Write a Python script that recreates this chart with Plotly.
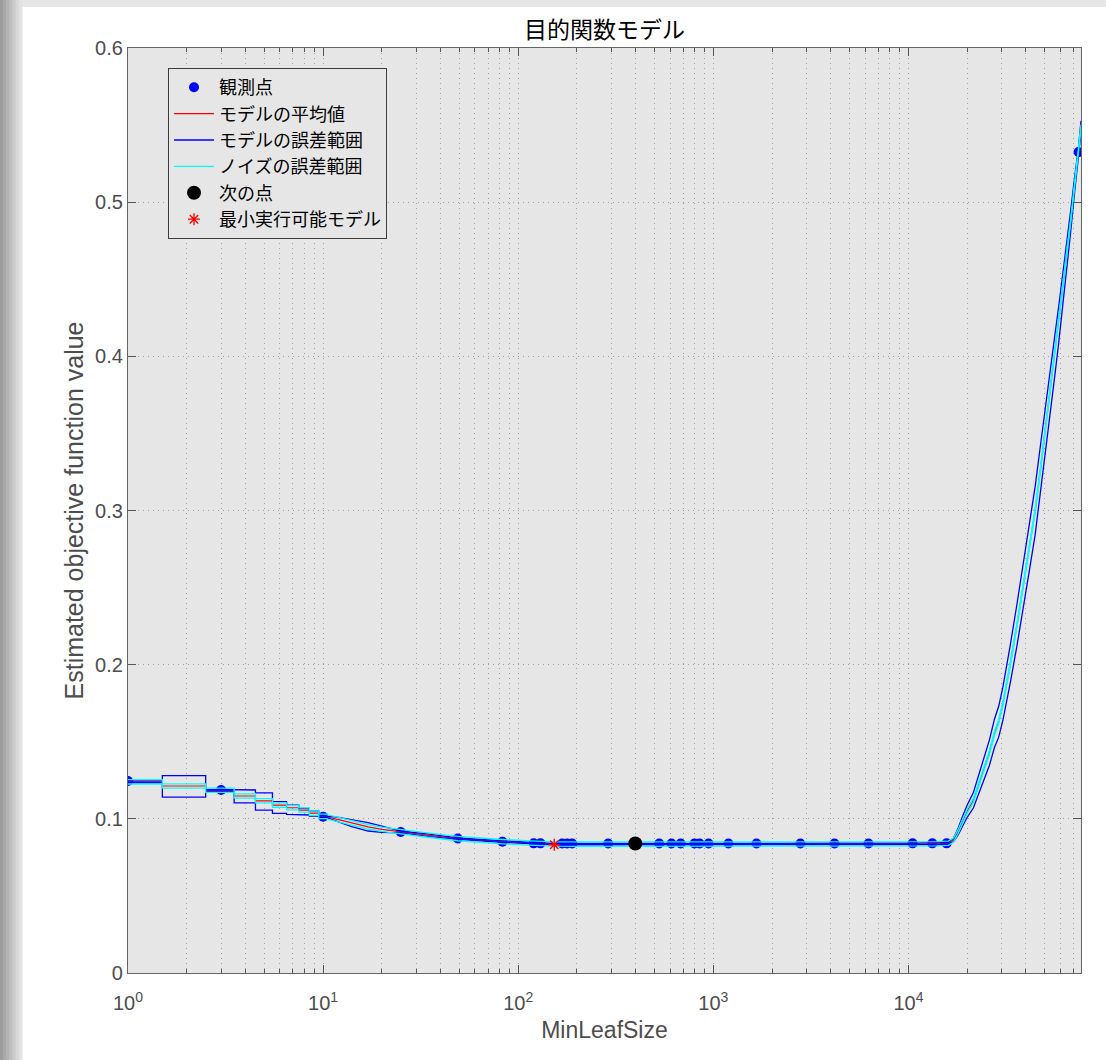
import plotly.graph_objects as go

# ---------------- data ----------------
# observed points (MinLeafSize, objective)
obs_x = [1, 3, 10, 25, 49, 83, 120, 130, 168, 178, 189, 289, 528, 610, 680,
         800, 850, 945, 1195, 1663, 2793, 4177, 6237, 10500, 13250, 15680, 74460]
obs_y = [0.1245, 0.1187, 0.1014, 0.0915, 0.0872, 0.0852, 0.0841, 0.0841, 0.0840,
         0.0840, 0.0840, 0.0840, 0.0840, 0.0840, 0.0840, 0.0840, 0.0840, 0.0840,
         0.0840, 0.0840, 0.0840, 0.0840, 0.0840, 0.0841, 0.0841, 0.0841, 0.5325]

# next point / minimum feasible model
next_x = [398]
next_y = [0.0840]
minf_x = [153]
minf_y = [0.0832]

# stepped part of the model (integer variable, low range)
step_edges = [1.0, 1.5, 2.5, 3.5, 4.5, 5.5, 6.5, 7.5, 8.5, 9.5, 10.5]
step_mean = [0.1240, 0.1213, 0.1185, 0.1148, 0.1117, 0.1089, 0.1072, 0.1057, 0.1037, 0.1016]
step_model_hi = [0.1246, 0.1280, 0.1191, 0.1187, 0.1168, 0.1111, 0.1089, 0.1068, 0.1051, 0.1021]
step_model_lo = [0.1234, 0.1141, 0.1179, 0.1104, 0.1057, 0.1036, 0.1029, 0.1025, 0.1018, 0.1011]

# smooth part of the model
smooth_x = [10.5, 12, 14, 17, 20, 25, 35, 49, 65, 83, 122, 153, 200, 400, 1000,
            2000, 5000, 10000, 14000, 16000, 17000, 18000, 19000, 20000, 21500,
            23000, 24700, 26000, 27600, 29000, 30500, 32000, 33200, 36000, 38700,
            41500, 44600, 47500, 50200, 53000, 56300, 58800, 61200, 64500, 68000,
            71000, 74460, 76600]
smooth_mean = [0.1012, 0.0995, 0.0972, 0.0948, 0.0932, 0.0915, 0.0893, 0.0872,
               0.0860, 0.0852, 0.0842, 0.0837, 0.0836, 0.0836, 0.0836, 0.0837,
               0.0837, 0.0838, 0.0838, 0.0842, 0.0862, 0.0920, 0.0990, 0.1050,
               0.1120, 0.1230, 0.1338, 0.1430, 0.1556, 0.1630, 0.1750, 0.1880,
               0.2000, 0.2260, 0.2500, 0.2750, 0.3000, 0.3270, 0.3520, 0.3760,
               0.4010, 0.4200, 0.4380, 0.4630, 0.4890, 0.5110, 0.5330, 0.5490]
smooth_model_err = [0.0005, 0.0015, 0.0022, 0.0027, 0.0020, 0.0006, 0.0008, 0.0005,
                    0.0006, 0.0005, 0.0004, 0.0004, 0.0004, 0.0004, 0.0004, 0.0006,
                    0.0006, 0.0005, 0.0005, 0.0005, 0.0012, 0.0022, 0.0032, 0.0040,
                    0.0050, 0.0060, 0.0072, 0.0082, 0.0092, 0.0100, 0.0108, 0.0116,
                    0.0122, 0.0135, 0.0145, 0.0152, 0.0156, 0.0155, 0.0150, 0.0142,
                    0.0130, 0.0118, 0.0105, 0.0088, 0.0068, 0.0048, 0.0032, 0.0038]
noise_err = 0.0014

x_tick_vals = [1, 10, 100, 1000, 10000]
x_tick_text = ["10<sup>0</sup>", "10<sup>1</sup>", "10<sup>2</sup>", "10<sup>3</sup>", "10<sup>4</sup>"]
y_tick_vals = [0, 0.1, 0.2, 0.3, 0.4, 0.5, 0.6]
y_tick_text = ["0", "0.1", "0.2", "0.3", "0.4", "0.5", "0.6"]
x_range_log = [0, 4.8842]   # 10^0 .. ~76600
y_range = [0, 0.6]


# ---------------- build curves ----------------
def steps(edges, vals):
    xs, ys = [], []
    for i, v in enumerate(vals):
        xs += [edges[i], edges[i + 1]]
        ys += [v, v]
    return xs, ys


sx, s_mean = steps(step_edges, step_mean)
_, s_hi = steps(step_edges, step_model_hi)
_, s_lo = steps(step_edges, step_model_lo)

mean_x = sx + smooth_x
mean_y = s_mean + smooth_mean
model_hi = s_hi + [m + e for m, e in zip(smooth_mean, smooth_model_err)]
model_lo = s_lo + [m - e for m, e in zip(smooth_mean, smooth_model_err)]
noise_hi = [v + noise_err for v in mean_y]
noise_lo = [v - noise_err for v in mean_y]

CJK = "Noto Sans CJK JP"
LAT = "Liberation Sans, Arial, Noto Sans CJK JP"
fig = go.Figure()

fig.add_trace(go.Scatter(x=obs_x, y=obs_y, mode="markers", name="観測点",
                         marker=dict(color="#0000ff", size=10)))
fig.add_trace(go.Scatter(x=mean_x, y=mean_y, mode="lines", name="モデルの平均値",
                         line=dict(color="#ff0000", width=1.2)))
fig.add_trace(go.Scatter(x=mean_x + [None] + mean_x, y=model_hi + [None] + model_lo,
                         mode="lines", name="モデルの誤差範囲", connectgaps=False,
                         line=dict(color="#0000ff", width=1.3)))
fig.add_trace(go.Scatter(x=mean_x + [None] + mean_x, y=noise_hi + [None] + noise_lo,
                         mode="lines", name="ノイズの誤差範囲", connectgaps=False,
                         line=dict(color="#00ffff", width=1.3)))
fig.add_trace(go.Scatter(x=next_x, y=next_y, mode="markers", name="次の点",
                         marker=dict(color="#000000", size=14)))
fig.add_trace(go.Scatter(x=minf_x, y=minf_y, mode="markers", name="最小実行可能モデル",
                         marker=dict(color="#ff0000", size=10, symbol="asterisk-open",
                                     line=dict(color="#ff0000", width=1.3))))

L, R, T, B = 128, 25, 48, 87
W, H = 1106, 1060


def px(xp):
    return (xp - L) / (W - L - R)


def py(yp):
    return (H - B - yp) / (H - T - B)


# screenshot frame (grey gradient strip at left and top)
shapes = []
left_cols = ["#9c9c9c", "#a8a8a8", "#b4b4b4", "#c0c0c0", "#cccccc", "#d8d8d8", "#e2e2e2"]
wstep = 22 / len(left_cols)
for i, c in enumerate(left_cols):
    shapes.append(dict(type="rect", xref="paper", yref="paper", layer="above",
                       x0=px(i * wstep), x1=px((i + 1) * wstep + 0.5), y0=py(H), y1=py(0),
                       fillcolor=c, line=dict(width=0)))
shapes.append(dict(type="rect", xref="paper", yref="paper", layer="above",
                   x0=px(22), x1=px(W), y0=py(7), y1=py(0),
                   fillcolor="#e6e6e6", line=dict(width=0)))

fig.update_layout(
    width=W, height=H,
    margin=dict(l=L, r=R, t=T, b=B),
    paper_bgcolor="#ffffff",
    plot_bgcolor="#e6e6e6",
    font=dict(family=LAT, color="#4d4d4d", size=20),
    title=dict(text="目的関数モデル", x=px(604.5), xanchor="center", xref="paper",
               y=1 - 30 / H, yanchor="middle", yref="container",
               font=dict(family=CJK, size=23, color="#000000")),
    showlegend=True,
    legend=dict(x=px(168), y=py(68), xanchor="left", yanchor="top",
                bgcolor="#e6e6e6", bordercolor="#3c3c3c", borderwidth=1,
                font=dict(family=CJK, size=18, color="#000000"),
                tracegroupgap=0, itemwidth=40),
    shapes=shapes,
)

GRID = "#a0a0a0"
fig.update_xaxes(
    type="log", range=x_range_log, tickvals=x_tick_vals, ticktext=x_tick_text,
    ticks="inside", ticklen=8, tickcolor="#555555", tickwidth=1,
    ticklabelstandoff=12,
    showline=True, linecolor="#666666", linewidth=1.2, mirror="ticks",
    showgrid=True, gridcolor=GRID, griddash="1px,4px", gridwidth=1,
    minor=dict(ticks="inside", ticklen=4, tickcolor="#555555", dtick="D1",
               showgrid=True, gridcolor=GRID, griddash="1px,4px", gridwidth=1),
    tickfont=dict(family=LAT, size=20, color="#4d4d4d"),
    title=dict(text="MinLeafSize", font=dict(family=LAT, size=23, color="#4d4d4d"),
               standoff=8),
    zeroline=False,
)
fig.update_yaxes(
    range=y_range, tickvals=y_tick_vals, ticktext=y_tick_text,
    ticks="inside", ticklen=8, tickcolor="#555555", tickwidth=1,
    showline=True, linecolor="#666666", linewidth=1.2, mirror="ticks",
    showgrid=True, gridcolor=GRID, griddash="1px,4px", gridwidth=1,
    tickfont=dict(family=LAT, size=20, color="#4d4d4d"),
    title=dict(text="Estimated objective function value",
               font=dict(family=LAT, size=25, color="#4d4d4d"), standoff=4),
    zeroline=False,
)

fig.write_html("out.html")
